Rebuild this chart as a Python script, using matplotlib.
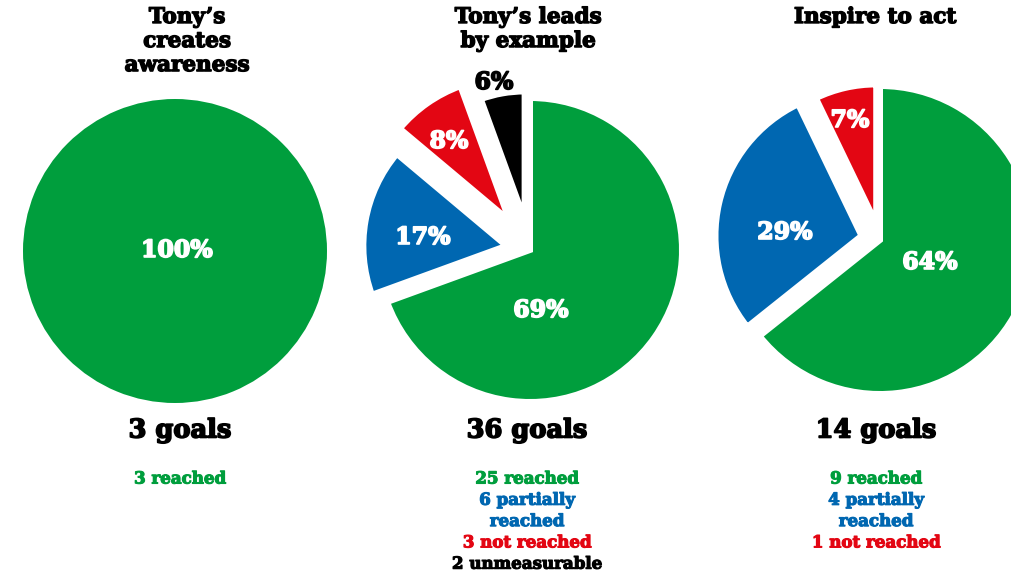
import matplotlib.pyplot as plt
import matplotlib.patheffects as pe

# ---- data ----
titles = ["Tony’s\ncreates\nawareness", "Tony’s leads\nby example", "Inspire to act"]
categories = ["reached", "partially\nreached", "not reached", "unmeasurable"]
goals_awareness = [3]
goals_example = [25, 6, 3, 2]
goals_inspire = [9, 4, 1]

colors = ["#009E3D", "#0067B1", "#E30613", "#000000"]
FONT = "DejaVu Serif"
H = 573
GAP_PX = 6  # white separation drawn as wedge edge

fig = plt.figure(figsize=(10.12, 5.73), dpi=100)
ax = fig.add_axes([0, 0, 1, 1])

layouts = [
    dict(cx=175, cy=251, radii=[152], explode=[0],
         lab=[(177, 250)], labc=["white"], tx=187, gx=180),
    dict(cx=530, cy=250, radii=[149, 140, 140, 125], explode=[0, 24, 36, 31],
         lab=[(541, 310), (423, 237), (449, 141), (494, 82)],
         labc=["white", "white", "white", "black"], tx=528, gx=527),
    dict(cx=880, cy=240, radii=[151, 143, 136], explode=[0, 19, 17],
         lab=[(930, 262), (785, 232), (850, 120)],
         labc=["white", "white", "white"], tx=875, gx=876),
]
datasets = [goals_awareness, goals_example, goals_inspire]


def bold(c, w=1.0):
    return [pe.withStroke(linewidth=w, foreground=c)]


for vals, lay, title in zip(datasets, layouts, titles):
    n = len(vals)
    wedges, _ = ax.pie(vals, colors=colors[:n], explode=lay["explode"], startangle=90,
                       counterclock=False, center=(lay["cx"], H - lay["cy"]),
                       radius=max(lay["radii"]),
                       wedgeprops=dict(linewidth=GAP_PX * 0.72, edgecolor="white"),
                       frame=True)
    for w, r in zip(wedges, lay["radii"]):
        w.set_radius(r + GAP_PX / 2)
    total = sum(vals)
    for v, (lx, ly), c in zip(vals, lay["lab"], lay["labc"]):
        ax.text(lx, H - ly, f"{round(v / total * 100)}%", ha="center", va="center",
                color=c, fontsize=17, fontweight="bold", family=FONT,
                path_effects=bold(c, 1.2), zorder=5)
    ax.text(lay["tx"], H - 6, title, ha="center", va="top", color="black",
            fontsize=15.5, fontweight="bold", family=FONT, linespacing=1.12,
            path_effects=bold("black", 1.0))
    ax.text(lay["gx"], H - 430, f"{total} goals", ha="center", va="center",
            fontsize=18.5, fontweight="bold", family=FONT,
            path_effects=bold("black", 1.2))
    y = 479
    for v, cat, c in zip(vals, categories, colors):
        for line in f"{v} {cat}".split("\n"):
            ax.text(lay["gx"], H - y, line, ha="center", va="center", color=c,
                    fontsize=12, fontweight="bold", family=FONT,
                    path_effects=bold(c, 0.8))
            y += 21.3

ax.set_xlim(0, 1012)
ax.set_ylim(0, H)
ax.set_aspect("equal")
ax.axis("off")
fig.savefig("out.png", dpi=100, facecolor="white")
